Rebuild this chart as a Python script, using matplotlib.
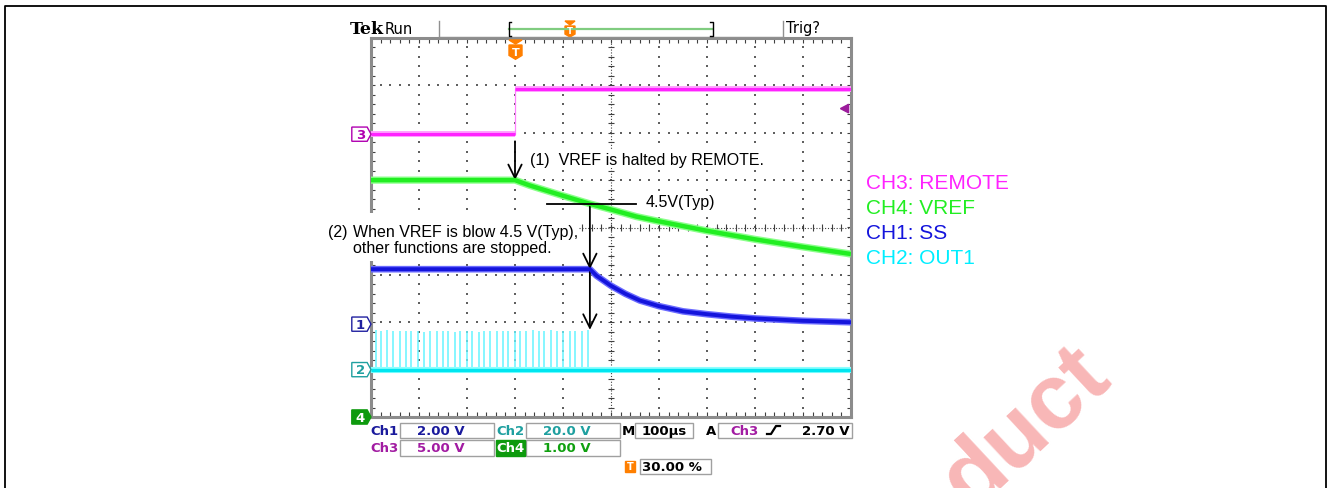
import matplotlib
matplotlib.use("Agg")
import matplotlib.pyplot as plt
import numpy as np
from matplotlib.patches import Polygon, Rectangle

W, H = 1327, 489

# scope settings
US_PER_DIV = 100.0          # M 100us
TRIG_DIV = 3.0              # trigger position 30.00 % of 10 div
CH1_VDIV, CH1_GND = 2.0, -2.04
CH2_VDIV, CH2_GND = 20.0, -3.0
CH3_VDIV, CH3_GND = 5.0, 1.97
CH4_VDIV, CH4_GND = 1.0, -4.0
TRIG_LEVEL = 2.70           # A  Ch3 rising 2.70 V
VREF_STOP = 4.5             # 4.5V(Typ)

# CH3: REMOTE
remote_t = [-300, 0, 0, 700]
remote_v = [0.0, 0.0, 4.75, 4.75]

# CH4: VREF
vref_t = [-300, 0, 30, 52, 100, 156, 200, 253, 300, 400, 500, 600, 700]
vref_v = [5.0, 5.0, 4.89, 4.82, 4.67, 4.50, 4.38, 4.23, 4.13, 3.93, 3.75, 3.59, 3.44]

# CH1: SS
ss_t = [-300, 156, 170, 200, 230, 260, 300, 350, 400, 450, 500, 600, 700]
ss_v = [2.32, 2.32, 2.04, 1.62, 1.28, 1.00, 0.76, 0.54, 0.42, 0.32, 0.24, 0.14, 0.08]

# CH2: OUT1 switching pulses (time, peak) until VREF falls below 4.5 V
out1_t = [-290, -279, -266, -255, -240, -228, -217, -202, -189, -177, -163, -151,
          -139, -126, -115, -101, -89, -76, -65, -52, -38, -26, -14, -1,
          10, 23, 37, 49, 60, 74, 87, 99, 115, 126, 139, 153]
out1_v = [16.6, 16.4, 16.8, 16.2, 16.4, 16.2, 16.4, 16.2, 16.0, 16.4, 16.2, 16.4,
          16.2, 16.0, 16.2, 16.4, 16.2, 16.0, 16.4, 16.2, 16.4, 16.4, 16.2, 16.4,
          16.4, 16.2, 16.6, 16.4, 16.2, 16.6, 16.4, 16.4, 16.2, 16.4, 16.2, 16.6]
out1_base_t = [-300, 700]
out1_base_v = [0.0, 0.0]

C1, C2, C3, C4 = "#1414dc", "#00e6f0", "#ff22ff", "#22ee22"
ST1, ST2, ST3, ST4 = "#1a1a9c", "#1fa0a0", "#a21ca2", "#10a010"
ORANGE = "#ff7f00"


def tdiv(t):
    return np.asarray(t, float) / US_PER_DIV + TRIG_DIV


def vdiv(v, scale, gnd):
    return np.asarray(v, float) / scale + gnd


plt.rcParams["font.family"] = ["Liberation Sans", "DejaVu Sans"]
fig = plt.figure(figsize=(W / 100, H / 100), dpi=100)

# ---- graticule -------------------------------------------------------------
ax = fig.add_axes([371 / W, 1 - 418 / H, 480 / W, 379 / H])
ax.set_xlim(0, 10)
ax.set_ylim(-4, 4)
ax.set_xticks([])
ax.set_yticks([])
for s in ax.spines.values():
    s.set_color("#8c8c8c")
    s.set_linewidth(2.2)

mx = np.arange(0, 10.01, 0.2)
my = np.arange(-4, 4.01, 0.2)
gx, gy = [], []
for k in range(1, 10):
    if k != 5:
        gx += [k] * len(my)
        gy += list(my)
for k in range(-3, 4):
    if k != 0:
        gx += list(mx)
        gy += [k] * len(mx)
ax.scatter(gx, gy, s=1.2, marker="s", color="#606060", lw=0, zorder=1)
ax.axvline(5, ls=(0, (1, 1.6)), lw=0.8, color="#404040", zorder=1)
ax.axhline(0, ls=(0, (1, 1.6)), lw=0.8, color="#404040", zorder=1)
ax.hlines(my, 4.93, 5.07, lw=0.8, color="#404040", zorder=1)
ax.vlines(mx, -0.07, 0.07, lw=0.8, color="#404040", zorder=1)
ax.vlines(mx, 3.9, 4, lw=0.8, color="#404040", zorder=1)
ax.vlines(mx, -4, -3.9, lw=0.8, color="#404040", zorder=1)
ax.hlines(my, 0, 0.09, lw=0.8, color="#404040", zorder=1)
ax.hlines(my, 9.91, 10, lw=0.8, color="#404040", zorder=1)


# ---- traces ----------------------------------------------------------------
def trace(x, y, core, glow, lw):
    ax.plot(x, y, color=glow, lw=lw + 2.0, zorder=3, solid_capstyle="butt")
    ax.plot(x, y, color=core, lw=lw, zorder=4, solid_capstyle="butt")


rx, ry = tdiv(remote_t), vdiv(remote_v, CH3_VDIV, CH3_GND)
trace(rx[:2], ry[:2], C3, "#ff9cff", 2.2)
trace(rx[2:], ry[2:], C3, "#ff9cff", 2.2)
ax.plot(rx[1:3], ry[1:3], color="#ff80ff", lw=0.9, zorder=3)

trace(tdiv(vref_t), vdiv(vref_v, CH4_VDIV, CH4_GND), C4, "#8cff8c", 3.2)
trace(tdiv(ss_t), vdiv(ss_v, CH1_VDIV, CH1_GND), C1, "#6a6aff", 2.8)

base = vdiv(out1_base_v, CH2_VDIV, CH2_GND)
ax.vlines(tdiv(out1_t), base[0], vdiv(out1_v, CH2_VDIV, CH2_GND),
          color="#66f4ff", lw=1.1, zorder=3)
trace(tdiv(out1_base_t), base, C2, "#8cffff", 2.4)

# trigger level marker on the right edge
ty = vdiv(TRIG_LEVEL, CH3_VDIV, CH3_GND)
ax.add_patch(Polygon([(9.78, ty), (9.95, ty + 0.09), (9.95, ty - 0.09)],
                     closed=True, color="#9c1c9c", zorder=6))


# channel ground markers on the left edge
def ch_marker(label, y, color, filled=False):
    h = 0.15
    pts = [(-0.40, y - h), (-0.08, y - h), (0.0, y), (-0.08, y + h), (-0.40, y + h)]
    ax.add_patch(Polygon(pts, closed=True, fc=color if filled else "white",
                         ec=color, lw=1.0, clip_on=False, zorder=6))
    ax.text(-0.22, y, label, color="white" if filled else color, fontsize=9.5,
            fontweight="bold", family="DejaVu Sans", ha="center", va="center",
            clip_on=False, zorder=7)


ch_marker("3", CH3_GND, "#b000b0")
ch_marker("1", CH1_GND, "#2020a0")
ch_marker("2", CH2_GND, "#1fa0a0")
ch_marker("4", CH4_GND, "#0e9a0e", filled=True)

# ---- annotation arrows -------------------------------------------------------
head = dict(arrowstyle="->,head_length=0.65,head_width=0.32", lw=1.3, color="black",
            mutation_scale=15, shrinkA=0, shrinkB=0)
x_trig = tdiv(0)
ax.annotate("", xy=(x_trig, vdiv(vref_v[1], CH4_VDIV, CH4_GND)),
            xytext=(x_trig, ry[1] - 0.15), arrowprops=head, annotation_clip=False)
x_stop = tdiv(156)
y_stop = vdiv(VREF_STOP, CH4_VDIV, CH4_GND)
ax.plot([3.67, 5.52], [y_stop, y_stop], color="black", lw=1.3, zorder=8)
ax.annotate("", xy=(x_stop, vdiv(ss_v[1], CH1_VDIV, CH1_GND)),
            xytext=(x_stop, y_stop), arrowprops=head)
ax.annotate("", xy=(x_stop, vdiv(max(out1_v), CH2_VDIV, CH2_GND)),
            xytext=(x_stop, vdiv(ss_v[1], CH1_VDIV, CH1_GND)), arrowprops=head)

# ---- overlay in pixel coordinates ---------------------------------------------
ov = fig.add_axes([0, 0, 1, 1], zorder=5)
ov.set_xlim(0, W)
ov.set_ylim(H, 0)
ov.axis("off")
ov.patch.set_alpha(0)

ov.plot([4.5, 4.5, 1326, 1326], [489, 7, 7, 489], color="black", lw=1.3)

# header
ov.text(350, 30, "Tek", family="DejaVu Serif", fontweight="bold", fontsize=12.5,
        va="center", ha="left")
ov.text(385, 30, "Run", family="DejaVu Sans", fontsize=10.5, va="center", ha="left")
ov.text(786, 29, "Trig?", family="DejaVu Sans", fontsize=10.5, va="center", ha="left")
ov.plot([439, 439], [22, 38], color="#909090", lw=1)
ov.plot([783, 783], [22, 38], color="#909090", lw=1)
ov.plot([439, 783], [37.5, 37.5], color="#909090", lw=1)
ov.plot([509, 712], [30, 30], color="#80cc80", lw=1.6)
ov.plot([511, 508.5, 508.5, 511], [23, 23, 37, 37], color="black", lw=1)
ov.plot([710, 712.5, 712.5, 710], [23, 23, 37, 37], color="black", lw=1)


def t_badge(x, ytop, size):
    w = size / 2
    ov.add_patch(Polygon([(x - w, ytop), (x + w, ytop), (x, ytop + 4)], color=ORANGE))
    ov.add_patch(Polygon([(x - w, ytop + 5), (x + w, ytop + 5), (x + w, ytop + 5 + size * 0.8),
                          (x, ytop + 5 + size * 1.1), (x - w, ytop + 5 + size * 0.8)],
                         color=ORANGE))
    ov.text(x, ytop + 5 + size * 0.5, "T", color="white", fontsize=size * 0.62,
            fontweight="bold", family="DejaVu Sans", ha="center", va="center")


t_badge(570, 22, 10)
t_badge(515.5, 41, 13)

# annotation texts
ov.text(530, 160, "(1)  VREF is halted by REMOTE.", fontsize=11.5, va="center",
        bbox=dict(fc="white", ec="none", pad=1))
ov.text(646, 203, "4.5V(Typ)", fontsize=11.5, va="center",
        bbox=dict(fc="white", ec="none", pad=1))
ov.add_patch(Rectangle((320, 214), 258, 48, fc="white", ec="none"))
ov.text(328, 232, "(2)", fontsize=11.5, va="center")
ov.text(353, 232, "When VREF is blow 4.5 V(Typ),", fontsize=11.5, va="center")
ov.text(353, 249, "other functions are stopped.", fontsize=11.5, va="center")

# channel legend
legend = [("CH3: REMOTE", "#ff22ff"), ("CH4: VREF", "#22ee22"),
          ("CH1: SS", "#1414dc"), ("CH2: OUT1", "#00eeff")]
for i, (name, col) in enumerate(legend):
    ov.text(866, 189 + i * 25, name, color=col, fontsize=15, va="baseline")

# status bar
sf = dict(family="DejaVu Sans", fontweight="bold", fontsize=9.5, va="center")


def box(x0, y0, x1, y1):
    ov.add_patch(Rectangle((x0, y0), x1 - x0, y1 - y0, fc="none", ec="#a0a0a0", lw=1))


box(400, 424, 494, 439)
box(526, 424, 620, 439)
box(635, 424, 693, 439)
box(718, 424, 852, 439)
box(400, 441, 494, 457)
box(526, 441, 620, 457)
box(640, 460, 711, 475)
ov.text(370, 431.5, "Ch1", color=ST1, **sf)
ov.text(441, 431.5, "2.00 V", color=ST1, ha="center", **sf)
ov.text(496, 431.5, "Ch2", color=ST2, **sf)
ov.text(567, 431.5, "20.0 V", color=ST2, ha="center", **sf)
ov.text(622, 431.5, "M", color="black", **sf)
ov.text(664, 431.5, "100µs", color="black", ha="center", **sf)
ov.text(706, 431.5, "A", color="black", **sf)
ov.text(730, 431.5, "Ch3", color=ST3, **sf)
ov.plot([767, 771, 776, 780], [435, 435, 427, 427], color="black", lw=1.6)
ov.text(850, 431.5, "2.70 V", color="black", ha="right", **sf)
ov.text(370, 449, "Ch3", color=ST3, **sf)
ov.text(441, 449, "5.00 V", color=ST3, ha="center", **sf)
ov.add_patch(Rectangle((496, 441), 29, 16, color="#0e9a0e"))
ov.text(510.5, 449, "Ch4", color="white", ha="center", **sf)
ov.text(567, 449, "1.00 V", color=ST4, ha="center", **sf)
ov.add_patch(Rectangle((625, 462), 10, 11, color=ORANGE))
ov.text(630, 467.5, "T", color="white", fontsize=7, fontweight="bold",
        family="DejaVu Sans", ha="center", va="center")
ov.text(672, 467.5, "30.00 %", color="black", ha="center", **sf)

# watermark fragment, running off the bottom edge as in the source
ov.text(1113, 380, "duct", color="#f7aaaa", alpha=0.85, fontsize=66,
        fontweight="bold", rotation=43, rotation_mode="anchor",
        ha="right", va="baseline", zorder=0)

fig.savefig("out.png", dpi=100)
